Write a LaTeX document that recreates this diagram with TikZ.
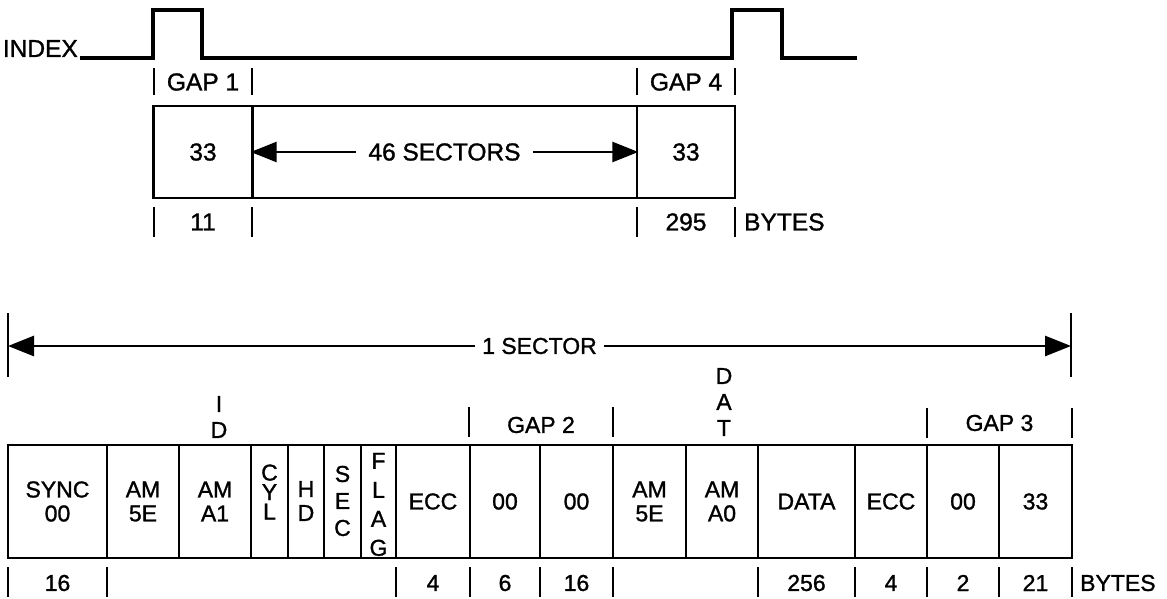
\documentclass[tikz,border=0pt]{standalone}
\usepackage{fontspec}
\setmainfont{Liberation Sans}[FakeBold=1.2]
\usetikzlibrary{arrows.meta}
\tikzset{
  lbl/.style={font=\fontsize{23}{26}\selectfont, inner sep=0pt},
  toplbl/.style={font=\fontsize{24.5}{28}\selectfont, inner sep=0pt},
  cell/.style={draw, line width=2.6pt, inner sep=0pt, minimum height=113pt, align=center,
               font=\fontsize{23}{24}\selectfont},
  topcell/.style={draw, line width=2.6pt, inner sep=0pt, minimum height=92pt, align=center,
               font=\fontsize{24.5}{26}\selectfont},
  vtext/.style={font=\fontsize{23}{#1}\selectfont},
  bar/.style={line width=2.6pt},
  wave/.style={line width=3.6pt, line join=miter},
  arr/.style={line width=2.6pt, {Triangle[length=26pt,width=20pt]}-{Triangle[length=26pt,width=20pt]}},
}
\begin{document}
\begin{tikzpicture}[x=1pt,y=-1pt]
\useasboundingbox[fill=white] (0,0) rectangle (1167,599);

% ---------- index waveform ----------
\node[toplbl, anchor=base east] (index) at (78,57) {INDEX};
\draw[wave] (80,58) -- (153,58) -- (153,10) -- (202,10) -- (202,58) -- (732,58)
            -- (732,10) -- (782,10) -- (782,58) -- (857,58);

% gap labels on top
\draw[bar] (154,68) -- (154,95);
\draw[bar] (252,68) -- (252,95);
\node[toplbl] (gap1) at (203,82) {GAP 1};
\draw[bar] (637,68) -- (637,95);
\draw[bar] (735,68) -- (735,95);
\node[toplbl] (gap4) at (686,82) {GAP 4};

% top track boxes
\node[topcell, minimum width=99pt] (g1box) at (203,152) {33};
\node[topcell, minimum width=385pt] (secbox) at (444.5,152) {};
\node[topcell, minimum width=98pt] (g4box) at (686,152) {33};
\draw[arr] (secbox.west) -- node[toplbl, fill=white, inner xsep=12pt, inner ysep=2pt] {46 SECTORS} (secbox.east);

% bytes under top track
\draw[bar] (154,207) -- (154,237);
\draw[bar] (252,207) -- (252,237);
\draw[bar] (637,207) -- (637,237);
\draw[bar] (735,207) -- (735,237);
\node[toplbl] (b11) at (203,222) {11};
\node[toplbl] (b295) at (686,222) {295};
\node[toplbl, anchor=west] (bytes1) at (744,222) {BYTES};

% ---------- one sector ----------
\coordinate (sL) at (8,346);
\coordinate (sR) at (1071,346);
\draw[bar] (8,313) -- (8,377);
\draw[bar] (1071,313) -- (1071,377);
\draw[arr] (sL) -- node[lbl, fill=white, inner xsep=7pt, inner ysep=2pt] {1 SECTOR} (sR);

% labels above sector fields
\node[lbl, align=center, vtext=26] (id) at (219,417) {I\\D};
\node[lbl, align=center, vtext=26] (dat) at (724,402) {D\\A\\T};
\draw[bar] (469,407) -- (469,437);
\draw[bar] (613,407) -- (613,437);
\node[lbl] (gap2) at (541,425) {GAP 2};
\draw[bar] (927,408) -- (927,438);
\draw[bar] (1072,408) -- (1072,438);
\node[lbl] (gap3) at (999.5,423) {GAP 3};

% sector fields
\node[cell, minimum width=99pt] (sync) at (57.5,501.5) {SYNC\\00};
\node[cell, minimum width=72pt] (am5e) at (143,501.5) {AM\\5E};
\node[cell, minimum width=72pt] (ama1) at (215,501.5) {AM\\A1};
\node[cell, minimum width=37pt] (cyl) at (269.5,501.5) {};
\node[vtext=19.5, align=center, inner sep=0pt] (cylt) at (269.5,492) {C\\Y\\L};
\node[cell, minimum width=36pt] (hd) at (306,501.5) {};
\node[vtext=24, align=center, inner sep=0pt] (hdt) at (306,501) {H\\D};
\node[cell, minimum width=37pt] (sec) at (342.5,501.5) {};
\node[vtext=27, align=center, inner sep=0pt] (sect) at (342.5,501) {S\\E\\C};
\node[cell, minimum width=35pt] (flag) at (378.5,501.5) {};
\node[vtext=29, align=center, inner sep=0pt] (flagt) at (378.5,504.5) {F\\L\\A\\G};
\node[cell, minimum width=74pt] (ecc1) at (433,501.5) {ECC};
\node[cell, minimum width=70pt] (g2a) at (505,501.5) {00};
\node[cell, minimum width=73pt] (g2b) at (576.5,501.5) {00};
\node[cell, minimum width=73pt] (am5e2) at (649.5,501.5) {AM\\5E};
\node[cell, minimum width=72pt] (ama0) at (722,501.5) {AM\\A0};
\node[cell, minimum width=97pt] (data) at (806.5,501.5) {DATA};
\node[cell, minimum width=72pt] (ecc2) at (891,501.5) {ECC};
\node[cell, minimum width=72pt] (g3a) at (963,501.5) {00};
\node[cell, minimum width=73pt] (g3b) at (1035.5,501.5) {33};

% byte counts
\foreach \x in {8,107,396,470,540,613,758,855,927,999,1072}
  \draw[bar] (\x,567) -- (\x,597);
\node[lbl] (n16a) at (57.5,583) {16};
\node[lbl] (n4a) at (433,583) {4};
\node[lbl] (n6) at (505,583) {6};
\node[lbl] (n16b) at (576.5,583) {16};
\node[lbl] (n256) at (806.5,583) {256};
\node[lbl] (n4b) at (891,583) {4};
\node[lbl] (n2) at (963,583) {2};
\node[lbl] (n21) at (1035.5,583) {21};
\node[lbl, anchor=west] (bytes2) at (1080,583) {BYTES};
\end{tikzpicture}
\end{document}
